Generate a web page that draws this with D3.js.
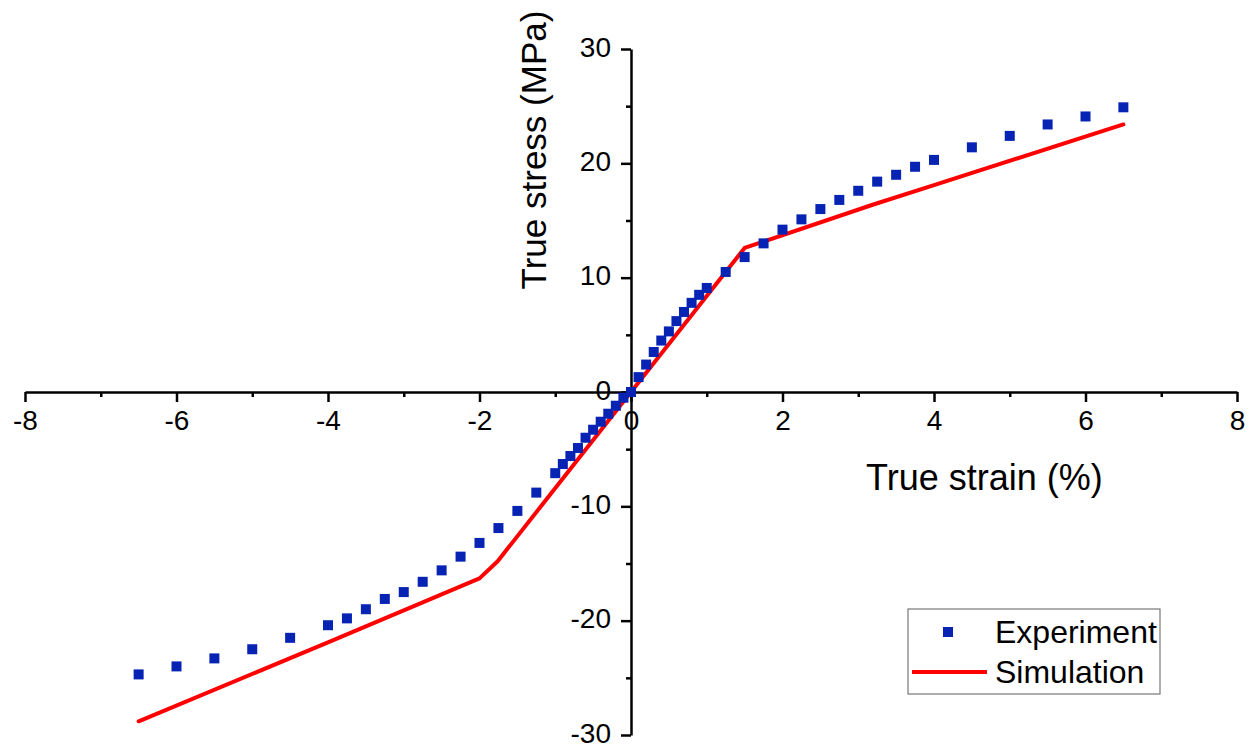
<!DOCTYPE html>
<html>
<head>
<meta charset="utf-8">
<script src="https://cdn.jsdelivr.net/npm/d3@7"></script>
<style>
  html, body { margin: 0; padding: 0; background: #fff; }
  svg { display: block; font-family: Arial, "Liberation Sans", sans-serif; }
</style>
</head>
<body>
<svg id="chart" width="1254" height="748"></svg>
<script>
// Experimental stress-strain points (true strain %, true stress MPa)
const expStrain = [-6.5, -6.0, -5.5, -5.0, -4.5, -4.0, -3.75, -3.5, -3.25, -3.0, -2.75, -2.5, -2.25, -2.0, -1.75, -1.5, -1.25,
  -1.0, -0.9, -0.8, -0.7, -0.6, -0.5, -0.4, -0.3, -0.2, -0.1, 0.0,
  0.1, 0.2, 0.3, 0.4, 0.5, 0.6, 0.7, 0.8, 0.9, 1.0, 1.25, 1.5, 1.75, 2.0, 2.25, 2.5, 2.75, 3.0, 3.25, 3.5, 3.75, 4.0,
  4.5, 5.0, 5.5, 6.0, 6.5];
const expStress = [-24.7, -24.0, -23.3, -22.5, -21.5, -20.4, -19.8, -19.0, -18.1, -17.5, -16.6, -15.6, -14.4, -13.2, -11.9, -10.4, -8.8,
  -7.1, -6.3, -5.6, -4.9, -4.0, -3.3, -2.6, -1.9, -1.2, -0.5, 0.0,
  1.3, 2.4, 3.5, 4.5, 5.3, 6.2, 7.0, 7.8, 8.5, 9.1, 10.5, 11.8, 13.0, 14.2, 15.1, 16.0, 16.8, 17.6, 18.4, 19.0, 19.7, 20.3,
  21.4, 22.4, 23.4, 24.1, 24.9];

// Simulated response (piecewise curve)
const simStrain = [-6.5, -4.0, -2.0, -1.76, 0.0, 1.5, 3.2, 4.0, 6.5];
const simStress = [-28.8, -21.9, -16.3, -14.8, 0.0, 12.6, 16.4, 18.1, 23.4];

// Axis ticks
const xTicks = [-8, -6, -4, -2, 0, 2, 4, 6, 8];
const xMinorTicks = [-7, -5, -3, -1, 1, 3, 5, 7];
const yTicks = [-30, -20, -10, 0, 10, 20, 30];
const yMinorTicks = [-25, -15, -5, 5, 15, 25];

const legendLabels = ["Experiment", "Simulation"];

const svg = d3.select("#chart");

const x = d3.scaleLinear().domain([-8, 8]).range([25, 1237]);
const y = d3.scaleLinear().domain([-30, 30]).range([735, 49]);

const tickFont = 28;
const fmt = d => d3.format("d")(d).replace("\u2212", "-");

// X axis through stress = 0
svg.append("g")
  .attr("transform", `translate(0,${y(0)})`)
  .call(d3.axisBottom(x).tickValues(xTicks).tickSize(10).tickPadding(8).tickSizeOuter(0).tickFormat(fmt));

svg.append("g")
  .attr("transform", `translate(0,${y(0)})`)
  .call(d3.axisBottom(x).tickValues(xMinorTicks).tickSize(5).tickFormat("").tickSizeOuter(0))
  .call(g => g.select(".domain").remove());

// Y axis through strain = 0
const yAxisG = svg.append("g")
  .attr("transform", `translate(${x(0)},0)`)
  .call(d3.axisLeft(y).tickValues(yTicks).tickSize(10).tickPadding(10).tickSizeOuter(0).tickFormat(fmt));
yAxisG.selectAll(".tick text").attr("dy", "0.25em");

svg.append("g")
  .attr("transform", `translate(${x(0)},0)`)
  .call(d3.axisLeft(y).tickValues(yMinorTicks).tickSize(5).tickFormat("").tickSizeOuter(0))
  .call(g => g.select(".domain").remove());

svg.selectAll(".domain").attr("stroke", "#000").attr("stroke-width", 2.5);
svg.selectAll(".tick line").attr("stroke", "#000").attr("stroke-width", 2.5);
svg.selectAll(".tick text")
  .attr("font-size", tickFont)
  .attr("font-family", "Arial, 'Liberation Sans', sans-serif")
  .attr("fill", "#000");

// Axis titles
svg.append("text")
  .attr("x", 866).attr("y", 490)
  .attr("font-size", 36)
  .attr("fill", "#000")
  .text("True strain (%)");

svg.append("text")
  .attr("transform", `translate(546,150) rotate(-90)`)
  .attr("text-anchor", "middle")
  .attr("font-size", 35)
  .attr("fill", "#000")
  .text("True stress (MPa)");

// Simulation line
const simData = simStrain.map((s, i) => [s, simStress[i]]);
svg.append("path")
  .datum(simData)
  .attr("fill", "none")
  .attr("stroke", "#ff0000")
  .attr("stroke-width", 4)
  .attr("stroke-linejoin", "round")
  .attr("stroke-linecap", "round")
  .attr("d", d3.line().x(d => x(d[0])).y(d => y(d[1])));

// Experimental markers
const expData = expStrain.map((s, i) => [s, expStress[i]]);
const ms = 10;
svg.append("g")
  .selectAll("rect")
  .data(expData)
  .join("rect")
  .attr("x", d => x(d[0]) - ms / 2)
  .attr("y", d => y(d[1]) - ms / 2)
  .attr("width", ms)
  .attr("height", ms)
  .attr("fill", "#0623b4");

// Legend
const lg = svg.append("g");
lg.append("rect")
  .attr("x", 908).attr("y", 609)
  .attr("width", 252).attr("height", 85)
  .attr("fill", "#fff")
  .attr("stroke", "#777")
  .attr("stroke-width", 1.2);
lg.append("rect")
  .attr("x", 948 - ms / 2).attr("y", 632 - ms / 2)
  .attr("width", ms).attr("height", ms)
  .attr("fill", "#0623b4");
lg.append("line")
  .attr("x1", 912).attr("x2", 987)
  .attr("y1", 672).attr("y2", 672)
  .attr("stroke", "#ff0000").attr("stroke-width", 4);
lg.selectAll("text.leg")
  .data(legendLabels)
  .join("text")
  .attr("class", "leg")
  .attr("x", 995)
  .attr("y", (d, i) => 632 + i * 40)
  .attr("dy", "0.35em")
  .attr("font-size", 32)
  .attr("fill", "#000")
  .text(d => d);
</script>
</body>
</html>
